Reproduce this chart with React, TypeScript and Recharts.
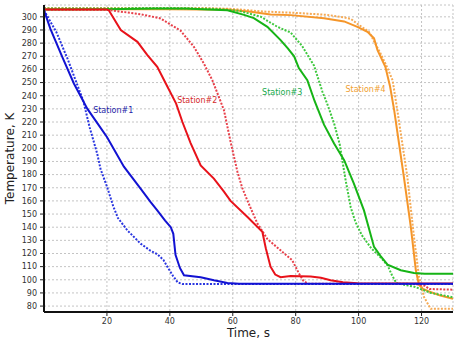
import React from 'react';
import { LineChart, Line, XAxis, YAxis, CartesianGrid, ReferenceDot, Label } from 'recharts';

// [time s, temperature K]
const station1Measured: number[][] = [
  [0, 305], [2, 291], [5.8, 269.5], [9.5, 249.3], [13.8, 230], [17, 219], [20, 208.6], [25.4, 186], [30.7, 169.4],
  [33.9, 159], [36, 152.8], [38.5, 145], [40.3, 140], [41.1, 135], [41.8, 119], [43.2, 109], [44.5, 103.4],
  [49.8, 102], [54, 99.6], [58.3, 97.5], [62, 97], [130, 97],
];
const station1Model: number[][] = [
  [0, 305], [4, 288], [7.5, 268], [10, 252], [12.5, 236], [14.5, 216], [16.9, 196], [18, 184], [20, 171],
  [22, 156], [23.5, 147], [26.5, 137.6], [30.7, 127.5], [33.9, 122], [36, 119.5], [38, 115], [39.2, 110],
  [41, 103], [42.5, 98], [44, 96.8], [130, 96.8],
];
const station2Measured: number[][] = [
  [0, 305.5], [20, 305.5], [20.6, 305], [24.4, 290], [29.7, 281], [32.8, 271], [36, 262], [39, 248],
  [42, 234], [44, 220], [46.6, 204], [49.8, 187], [54, 177], [57.2, 167], [59.3, 160], [64.6, 148],
  [69.4, 136.5], [70.5, 124], [72, 110], [73.5, 104], [75.2, 102], [78.4, 102.8], [84.8, 102.5],
  [88, 101.6], [91.1, 99.6], [95, 98.2], [99.6, 97.3], [130, 97.2],
];
const station2Model: number[][] = [
  [0, 305.5], [20, 305.3], [30.7, 302], [37, 298.8], [43.4, 289.5], [47.7, 277], [50.8, 264.5],
  [53.5, 251.8], [55.6, 239], [57.2, 229], [59.3, 205], [61.5, 182], [63, 170], [64.6, 160.5],
  [67.8, 143], [71, 131], [75.2, 122.4], [78.9, 114.8], [81, 105], [82.5, 99], [84, 97], [115, 97],
  [119, 96.5], [121, 95.5], [122.5, 93], [130, 92.5],
];
const station3Measured: number[][] = [
  [0, 305.5], [20, 305.8], [35, 306.3], [45, 306.3], [52, 305.5], [58.3, 305], [63.6, 301.5],
  [66.7, 299], [71, 292.4], [75.2, 282.3], [77.5, 276], [79.5, 270], [81, 261], [83.7, 251.8],
  [86, 236], [89, 218], [92.2, 203.6], [95.4, 191], [98.5, 173.2], [101.7, 152.8], [104.9, 125],
  [107, 118], [109.2, 111.5], [113.4, 107.3], [117.6, 105.1], [121, 104.6], [130, 104.6],
];
const station3Model: number[][] = [
  [0, 306.3], [40, 306.5], [55, 306], [62, 304.5], [66, 302], [69, 300], [72, 295.5], [74.2, 292.4],
  [78.4, 288], [82, 278], [85.8, 263], [88.5, 243], [90, 234], [92.2, 219], [94, 203], [95.7, 178],
  [97.5, 155], [99, 144], [101, 134], [104, 124], [107, 117], [109.2, 111], [110.5, 104], [112, 97.5],
  [118, 94.5], [123, 90], [130, 86.7],
];
const station4Measured: number[][] = [
  [0, 305.8], [40, 305.8], [50, 305.6], [58.3, 305.5], [65.7, 303.8], [72, 301.8], [78.4, 301.3],
  [89, 299], [95.4, 296.5], [99.6, 292.4], [102.8, 288.6], [104.9, 283.6], [106, 274.6], [108.5, 262],
  [110, 247], [111.3, 229], [114.4, 178], [116.6, 140], [118.2, 107], [119.2, 96], [120.5, 93],
  [122, 91.5], [126, 88], [130, 85.6],
];
const station4Model: number[][] = [
  [0, 306.8], [50, 306.8], [60, 306], [70, 304], [80, 303], [90, 301.5], [94.3, 300], [97.5, 298.5],
  [100, 294], [103.3, 288.6], [107, 272], [109, 262], [110.8, 251.8], [112.3, 229], [115.5, 178],
  [117.6, 132.5], [119.2, 102], [120.8, 86.8], [122.9, 78], [130, 78],
];

const yTicks = [80, 90, 100, 110, 120, 130, 140, 150, 160, 170, 180, 190, 200, 210, 220, 230, 240, 250, 260, 270, 280, 290, 300];
const xTicks = [20, 40, 60, 80, 100, 120];
const xMinorTicks = [0, 5, 10, 15, 20, 25, 30, 35, 40, 45, 50, 55, 60, 65, 70, 75, 80, 85, 90, 95, 100, 105, 110, 115, 120, 125, 130];

const labelNames = ['Station#1', 'Station#2', 'Station#3', 'Station#4'];
const labelTimes = [15.3, 42, 69, 95.5];
const labelTemps = [229, 236.6, 243, 244.7];
const labelColors = ['#2424a8', '#d42a2a', '#14a84a', '#f0a030'];

const toRows = (pts: number[][]) => pts.map(([t, T]) => ({ t, T }));

const series = [
  { key: 's4m', data: station4Model, color: '#f5aa55', dashed: true },
  { key: 's4', data: station4Measured, color: '#f5962a', dashed: false },
  { key: 's3m', data: station3Model, color: '#3ec83e', dashed: true },
  { key: 's3', data: station3Measured, color: '#16b416', dashed: false },
  { key: 's2m', data: station2Model, color: '#e8404a', dashed: true },
  { key: 's2', data: station2Measured, color: '#e8121a', dashed: false },
  { key: 's1m', data: station1Model, color: '#2a36e0', dashed: true },
  { key: 's1', data: station1Measured, color: '#1212d2', dashed: false },
];

const font = 'DejaVu Sans, Verdana, sans-serif';

export default function App() {
  return (
    <div style={{ position: 'fixed', left: 0, top: 0, width: 457, height: 342, background: '#fff' }}>
      <LineChart width={457} height={342} margin={{ top: 5, right: 4, left: 0, bottom: 0 }}>
        <CartesianGrid stroke="#c4c4c4" strokeDasharray="2 2" strokeWidth={1} />
        <XAxis xAxisId="top" orientation="top" type="number" dataKey="t" domain={[0, 130]} height={0}
          tick={false} tickLine={false} axisLine={{ stroke: '#666', strokeWidth: 1.5 }} />
        <YAxis yAxisId="right" orientation="right" type="number" domain={[75.5, 309]} width={0}
          tick={false} tickLine={false} axisLine={{ stroke: '#666', strokeWidth: 1.5 }} />
        <XAxis xAxisId="minor" type="number" dataKey="t" domain={[0, 130]} ticks={xMinorTicks} interval={0}
          height={0} tick={false} tickSize={3} tickLine={{ stroke: '#444' }} axisLine={false} />
        <XAxis xAxisId={0} type="number" dataKey="t" domain={[0, 130]} ticks={xTicks} interval={0} height={30}
          tickSize={4} tickMargin={2} tickLine={{ stroke: '#222' }} axisLine={{ stroke: '#111', strokeWidth: 2 }}
          tick={{ fontSize: 8, fill: '#333', fontFamily: font }}>
          <Label value="Time, s" position="insideBottom" offset={5}
            style={{ fontSize: 12, fill: '#222', fontFamily: font }} />
        </XAxis>
        <YAxis yAxisId={0} type="number" domain={[75.5, 309]} ticks={yTicks} interval={0} width={44}
          tickSize={4} tickMargin={3} tickLine={{ stroke: '#222' }} axisLine={{ stroke: '#111', strokeWidth: 2 }}
          tick={{ fontSize: 8, fill: '#333', fontFamily: font }}>
          <Label value="Temperature, K" angle={-90} position="insideLeft" offset={10}
            style={{ fontSize: 12, fill: '#222', fontFamily: font, textAnchor: 'middle' }} />
        </YAxis>
        {series.map((s) => (
          <Line key={s.key} data={toRows(s.data)} dataKey="T" type="linear" stroke={s.color}
            strokeWidth={2} strokeDasharray={s.dashed ? '2 1.5' : undefined}
            dot={false} activeDot={false} isAnimationActive={false} />
        ))}
        {labelNames.map((name, i) => (
          <ReferenceDot key={name} x={labelTimes[i]} y={labelTemps[i]} r={1} fill="none" stroke="none"
            label={{ value: name, position: 'right', offset: 0, fill: labelColors[i], fontSize: 8, fontFamily: font }} />
        ))}
      </LineChart>
    </div>
  );
}
